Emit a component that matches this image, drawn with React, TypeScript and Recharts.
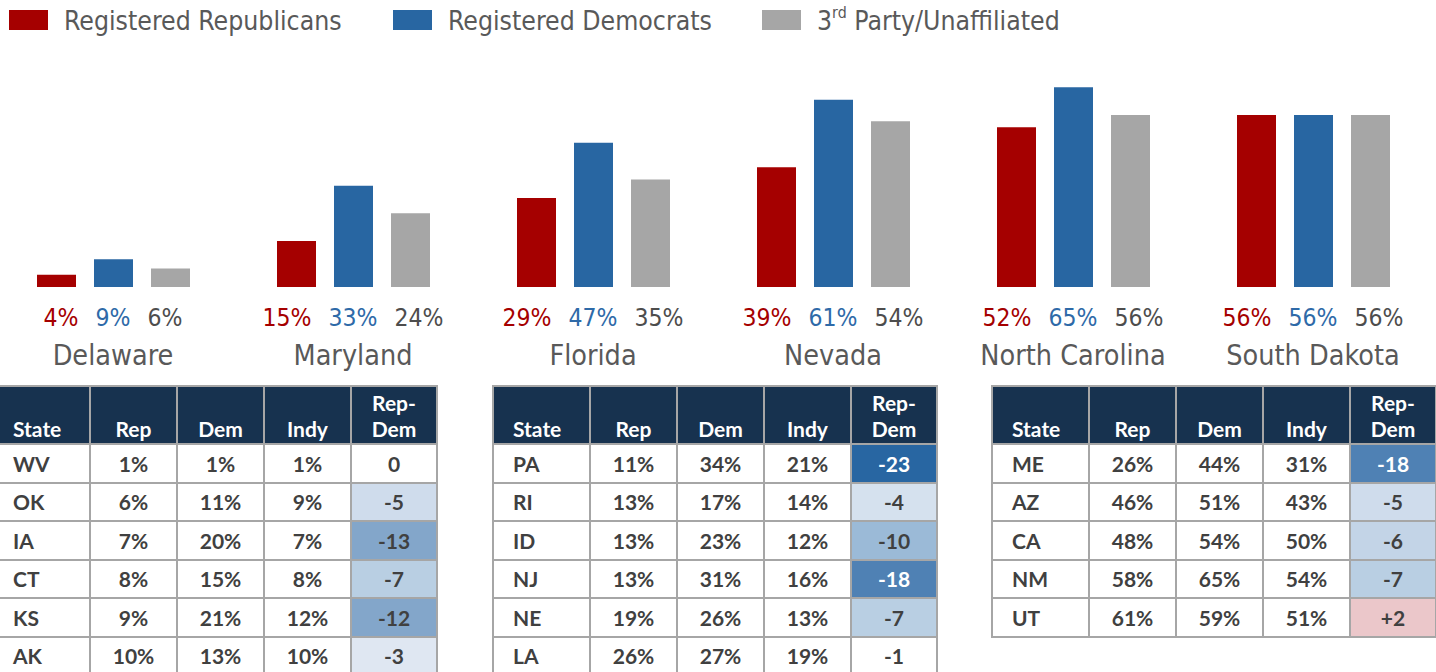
import { Bar, BarChart, Legend, XAxis, YAxis } from 'recharts'

const CATEGORIES = ['Delaware', 'Maryland', 'Florida', 'Nevada', 'North Carolina', 'South Dakota']
const REP_VALUES = [4, 15, 29, 39, 52, 56]
const DEM_VALUES = [9, 33, 47, 61, 65, 56]
const IND_VALUES = [6, 24, 35, 54, 56, 56]

const SERIES_NAMES = ['Registered Republicans', 'Registered Democrats', '3rd Party/Unaffiliated']

const TABLE_A_STATES = ['WV', 'OK', 'IA', 'CT', 'KS', 'AK']
const TABLE_A_REP = [1, 6, 7, 8, 9, 10]
const TABLE_A_DEM = [1, 11, 20, 15, 21, 13]
const TABLE_A_INDY = [1, 9, 7, 8, 12, 10]

const TABLE_B_STATES = ['PA', 'RI', 'ID', 'NJ', 'NE', 'LA']
const TABLE_B_REP = [11, 13, 13, 13, 19, 26]
const TABLE_B_DEM = [34, 17, 23, 31, 26, 27]
const TABLE_B_INDY = [21, 14, 12, 16, 13, 19]

const TABLE_C_STATES = ['ME', 'AZ', 'CA', 'NM', 'UT']
const TABLE_C_REP = [26, 46, 48, 58, 61]
const TABLE_C_DEM = [44, 51, 54, 65, 59]
const TABLE_C_INDY = [31, 43, 50, 54, 51]

const RED = '#a50000'
const BLUE = '#2866a2'
const GRAY = '#a6a6a6'
const TEXT_GRAY = '#595959'
const NAVY = '#17324f'
const CHART_FONT = '"DejaVu Sans", Verdana, sans-serif'
const TABLE_FONT = 'Lato, "Open Sans", sans-serif'

const data = CATEGORIES.map((name, i) => ({
  name,
  rep: REP_VALUES[i],
  dem: DEM_VALUES[i],
  ind: IND_VALUES[i],
}))

function diffColor(diff: number) {
  if (diff > 0) return '#ebc7ca'
  if (diff >= -1) return '#ffffff'
  if (diff >= -3) return '#dfe7f2'
  if (diff >= -4) return '#d5e1ee'
  if (diff >= -5) return '#cfdcec'
  if (diff >= -6) return '#c3d4e7'
  if (diff >= -7) return '#b9cfe3'
  if (diff >= -10) return '#9bbad7'
  if (diff >= -13) return '#83a6ca'
  if (diff >= -18) return '#4f81b4'
  return '#2866a2'
}

function LegendLabel({ text }: { text: string }) {
  const match = text.match(/^(\d)(rd)(.*)$/)
  if (!match) return <>{text}</>
  return (
    <>
      {match[1]}
      <sup style={{ fontSize: '0.6em', verticalAlign: '0.75em', lineHeight: 0 }}>{match[2]}</sup>
      {match[3]}
    </>
  )
}

function ChartLegend({ payload }: { payload?: Array<{ value: string; color: string }> }) {
  if (!payload?.length) return null
  const items = [...payload].sort((a, b) => SERIES_NAMES.indexOf(a.value) - SERIES_NAMES.indexOf(b.value))
  const widths = [384, 369, 400]
  return (
    <div style={{ display: 'flex', height: 40, paddingLeft: 16, fontFamily: CHART_FONT, fontStretch: 'condensed' }}>
      {items.map((item, index) => (
        <div key={item.value} style={{ width: widths[index], display: 'flex', alignItems: 'center', gap: 16 }}>
          <span style={{ width: 39, height: 20, background: item.color, flexShrink: 0 }} />
          <span style={{ color: TEXT_GRAY, fontSize: 26.4, whiteSpace: 'nowrap' }}>
            <LegendLabel text={item.value} />
          </span>
        </div>
      ))}
    </div>
  )
}

// two-line category label: the three percentages, then the state name
function CategoryTick(props: any) {
  const { x, y, payload, index } = props
  const row = data[index]
  return (
    <g>
      <text
        x={x}
        y={Number(y) + 39}
        textAnchor="middle"
        fontSize={24.5}
        fontFamily={CHART_FONT}
        style={{ fontStretch: 'condensed' }}
      >
        <tspan fill={RED}>{row.rep}%</tspan>
        <tspan fill="#2e6aa8" dx={17}>{row.dem}%</tspan>
        <tspan fill="#4d4d4d" dx={17}>{row.ind}%</tspan>
      </text>
      <text
        x={x}
        y={Number(y) + 78}
        textAnchor="middle"
        fill={TEXT_GRAY}
        fontSize={28.5}
        fontFamily={CHART_FONT}
        style={{ fontStretch: 'condensed' }}
      >
        {payload.value}
      </text>
    </g>
  )
}

function StateTable({
  states,
  rep,
  dem,
  indy,
  left,
}: {
  states: string[]
  rep: number[]
  dem: number[]
  indy: number[]
  left: number
}) {
  const border = '2px solid #a6a6a6'
  const headCell = {
    background: NAVY,
    color: '#ffffff',
    border,
    verticalAlign: 'bottom' as const,
    textAlign: 'center' as const,
    padding: '0 0 1px 0',
    lineHeight: '26px',
    fontSize: 21,
  }
  const bodyCell = {
    border,
    textAlign: 'center' as const,
    color: '#404040',
    fontSize: 21,
    height: 36.5,
    padding: 0,
  }
  return (
    <table
      style={{
        position: 'absolute',
        left,
        top: 385,
        width: 444,
        borderCollapse: 'collapse',
        tableLayout: 'fixed',
        fontFamily: TABLE_FONT,
        fontWeight: 700,
      }}
    >
      <colgroup>
        <col style={{ width: 97 }} />
        <col style={{ width: 87 }} />
        <col style={{ width: 87 }} />
        <col style={{ width: 87 }} />
        <col style={{ width: 86 }} />
      </colgroup>
      <thead>
        <tr style={{ height: 58 }}>
          <th style={{ ...headCell, textAlign: 'left', paddingLeft: 19 }}>State</th>
          <th style={headCell}>Rep</th>
          <th style={headCell}>Dem</th>
          <th style={headCell}>Indy</th>
          <th style={headCell}>
            Rep-
            <br />
            Dem
          </th>
        </tr>
      </thead>
      <tbody>
        {states.map((state, i) => {
          const diff = rep[i] - dem[i]
          const bg = diffColor(diff)
          return (
            <tr key={state}>
              <td style={{ ...bodyCell, textAlign: 'left', paddingLeft: 19 }}>{state}</td>
              <td style={bodyCell}>{rep[i]}%</td>
              <td style={bodyCell}>{dem[i]}%</td>
              <td style={bodyCell}>{indy[i]}%</td>
              <td style={{ ...bodyCell, background: bg, color: diff <= -18 ? '#ffffff' : '#404040' }}>
                {diff > 0 ? `+${diff}` : diff}
              </td>
            </tr>
          )
        })}
      </tbody>
    </table>
  )
}

export default function App() {
  return (
    <div
      style={{
        position: 'absolute',
        left: 0,
        top: 0,
        width: 1436,
        height: 672,
        overflow: 'hidden',
        background: '#ffffff',
      }}
    >
      <div style={{ position: 'absolute', left: -7, top: 0 }}>
        <BarChart
          width={1440}
          height={380}
          data={data}
          margin={{ top: 32, right: 0, bottom: 0, left: 0 }}
          barSize={39}
          barGap={18}
        >
          <Legend verticalAlign="top" align="left" wrapperStyle={{ top: 0, left: 0 }} content={<ChartLegend />} />
          <XAxis
            dataKey="name"
            axisLine={false}
            tickLine={false}
            tickSize={0}
            tickMargin={0}
            height={93}
            interval={0}
            tick={<CategoryTick />}
          />
          <YAxis hide domain={[0, 70]} />
          <Bar dataKey="rep" name={SERIES_NAMES[0]} fill={RED} isAnimationActive={false} />
          <Bar dataKey="dem" name={SERIES_NAMES[1]} fill={BLUE} isAnimationActive={false} />
          <Bar dataKey="ind" name={SERIES_NAMES[2]} fill={GRAY} isAnimationActive={false} />
        </BarChart>
      </div>
      <StateTable states={TABLE_A_STATES} rep={TABLE_A_REP} dem={TABLE_A_DEM} indy={TABLE_A_INDY} left={-8} />
      <StateTable states={TABLE_B_STATES} rep={TABLE_B_REP} dem={TABLE_B_DEM} indy={TABLE_B_INDY} left={492} />
      <StateTable states={TABLE_C_STATES} rep={TABLE_C_REP} dem={TABLE_C_DEM} indy={TABLE_C_INDY} left={991} />
    </div>
  )
}
